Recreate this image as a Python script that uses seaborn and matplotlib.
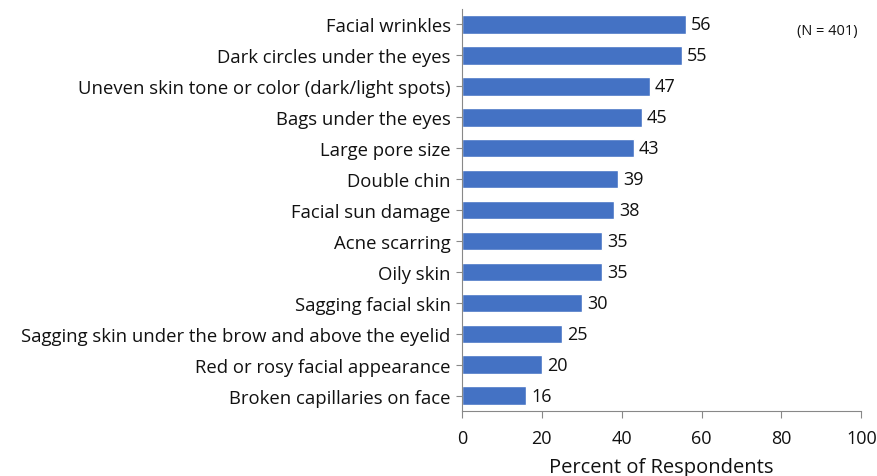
import matplotlib
matplotlib.use("Agg")
import matplotlib.pyplot as plt
import seaborn as sns
import pandas as pd

categories = [
    "Facial wrinkles",
    "Dark circles under the eyes",
    "Uneven skin tone or color (dark/light spots)",
    "Bags under the eyes",
    "Large pore size",
    "Double chin",
    "Facial sun damage",
    "Acne scarring",
    "Oily skin",
    "Sagging facial skin",
    "Sagging skin under the brow and above the eyelid",
    "Red or rosy facial appearance",
    "Broken capillaries on face",
]
percents = [56, 55, 47, 45, 43, 39, 38, 35, 35, 30, 25, 20, 16]
x_ticks = [0, 20, 40, 60, 80, 100]

sns.set_theme(style="white")
plt.rcParams["font.family"] = ["Open Sans", "DejaVu Sans"]

df = pd.DataFrame({"concern": categories, "pct": percents})

fig = plt.figure(figsize=(8.78, 4.77), dpi=100)
ax = fig.add_axes([0.526, 0.136, 0.455, 0.843])

sns.barplot(data=df, x="pct", y="concern", color="#4472C4", saturation=1,
            width=0.6, ax=ax, orient="h")

for patch, v in zip(ax.patches, percents):
    y = patch.get_y() + patch.get_height() / 2
    ax.text(v + 1.3, y, f"{v}", va="center", ha="left", fontsize=13, color="#111111")

ax.set_xlim(0, 100)
ax.set_xticks(x_ticks)
ax.set_xticklabels([str(t) for t in x_ticks], fontsize=13, color="#111111")
ax.tick_params(axis="y", labelsize=13.3, labelcolor="#111111", length=4, width=0.8,
               color="#888888", direction="out", left=True, pad=4)
ax.tick_params(axis="x", length=5, width=0.8, color="#888888", direction="out",
               bottom=True, pad=8)
ax.set_ylabel("")
ax.set_xlabel("Percent of Respondents", fontsize=14.5, color="#111111", labelpad=7)

for side in ("top", "right"):
    ax.spines[side].set_visible(False)
for side in ("left", "bottom"):
    ax.spines[side].set_color("#888888")
    ax.spines[side].set_linewidth(0.8)

fig.text(0.977, 0.935, "(N = 401)", ha="right", va="center", fontsize=10.5, color="#111111")

fig.savefig("out.png", dpi=100)
